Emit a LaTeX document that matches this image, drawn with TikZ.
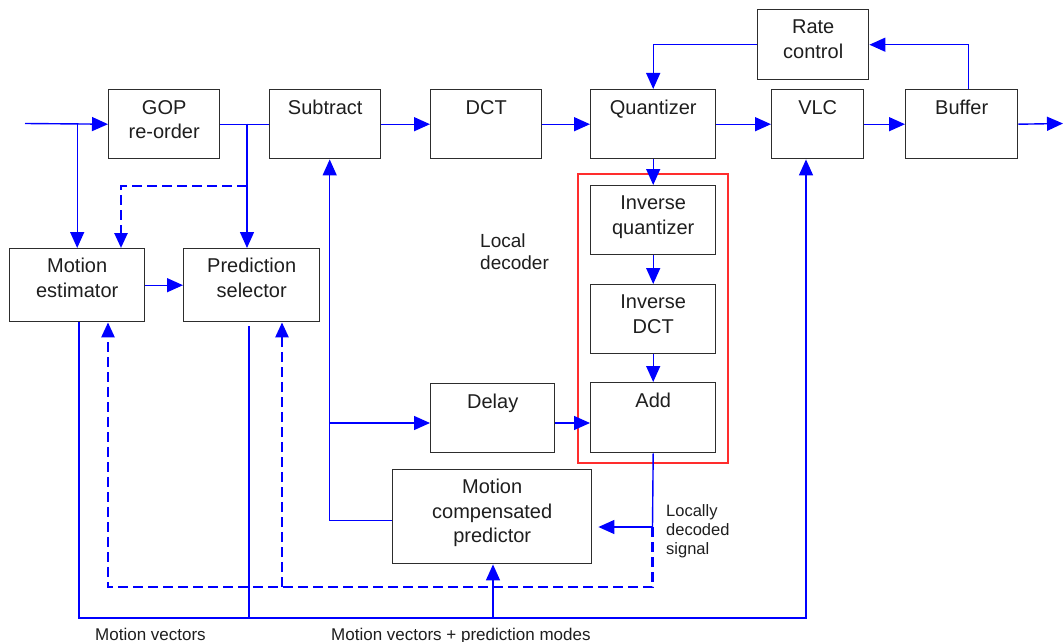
\documentclass[tikz,border=0pt]{standalone}
\usepackage{fontspec}
\setmainfont{Liberation Sans}
\usetikzlibrary{arrows.meta,calc}

\definecolor{sigblue}{RGB}{0,0,255}
\definecolor{boxgray}{RGB}{45,45,45}
\definecolor{txtgray}{RGB}{30,30,30}
\definecolor{decred}{RGB}{255,45,45}

\tikzset{
  blk/.style={draw=boxgray, line width=1.4pt, inner sep=0pt, anchor=north west},
  lbl/.style={anchor=north, inner sep=0pt, align=center, text=txtgray,
              font=\fontsize{20}{24.5}\selectfont},
  note/.style={anchor=north west, inner sep=0pt, align=left, text=txtgray},
  ln/.style={draw=sigblue, line width=1.4pt},
  arr/.style={ln, -{Triangle[length=16pt,width=14pt]}},
  darr/.style={ln, -{Triangle[length=15pt,width=13pt]}, line width=2.6pt, dash pattern=on 10pt off 5pt},
}

\begin{document}
\begin{tikzpicture}[x=1pt,y=-1pt]
\useasboundingbox (0,0) rectangle (1063,642);

% ---- processing blocks ----
\node[blk, minimum width=111pt, minimum height=69pt] (gop)   at (108,89)  {};
\node[blk, minimum width=111pt, minimum height=69pt] (sub)   at (269,89)  {};
\node[blk, minimum width=111pt, minimum height=69pt] (dct)   at (430,89)  {};
\node[blk, minimum width=125pt, minimum height=69pt] (quant) at (590,89)  {};
\node[blk, minimum width=92pt,  minimum height=69pt] (vlc)   at (771,89)  {};
\node[blk, minimum width=112pt, minimum height=69pt] (buf)   at (905,89)  {};
\node[blk, minimum width=111pt, minimum height=70pt] (rate)  at (757,9)   {};
\node[blk, minimum width=135pt, minimum height=73pt] (me)    at (9,248)   {};
\node[blk, minimum width=136pt, minimum height=73pt] (ps)    at (183,248) {};
\node[blk, minimum width=125pt, minimum height=69pt] (iq)    at (590,185) {};
\node[blk, minimum width=125pt, minimum height=69pt] (idct)  at (590,284) {};
\node[blk, minimum width=125pt, minimum height=70pt] (add)   at (590,382) {};
\node[blk, minimum width=124pt, minimum height=69pt] (delay) at (430,383) {};
\node[blk, minimum width=199pt, minimum height=94pt] (mcp)   at (392,469) {};

% local decoder frame
\node[draw=decred, line width=1.6pt, inner sep=0pt, anchor=north west,
      minimum width=150pt, minimum height=289pt] (ld) at (577,173) {};

% ---- block captions (top aligned) ----
\node[lbl] (gopt)   at ([yshift=-11pt]gop.north)   {GOP\\re-order};
\node[lbl] (subt)   at ([yshift=-11pt]sub.north)   {Subtract};
\node[lbl] (dctt)   at ([yshift=-11pt]dct.north)   {DCT};
\node[lbl] (quantt) at ([yshift=-11pt]quant.north) {Quantizer};
\node[lbl] (vlct)   at ([yshift=-11pt]vlc.north)   {VLC};
\node[lbl] (buft)   at ([yshift=-11pt]buf.north)   {Buffer};
\node[lbl] (ratet)  at ([yshift=-11pt]rate.north)  {Rate\\control};
\node[lbl] (met)    at ([yshift=-10pt]me.north)    {Motion\\estimator};
\node[lbl] (pst)    at ([yshift=-10pt]ps.north)    {Prediction\\selector};
\node[lbl] (iqt)    at ([yshift=-11pt]iq.north)    {Inverse\\quantizer};
\node[lbl] (idctt)  at ([yshift=-11pt]idct.north)  {Inverse\\DCT};
\node[lbl] (addt)   at ([yshift=-11pt]add.north)   {Add};
\node[lbl] (delayt) at ([yshift=-11pt]delay.north) {Delay};
\node[lbl] (mcpt)   at ([yshift=-10pt]mcp.north)   {Motion\\compensated\\predictor};

% ---- free labels ----
\node[note, font=\fontsize{19}{22}\selectfont] (ldlab) at (480,234) {Local\\decoder};
\node[note, font=\fontsize{16.5}{19.2}\selectfont] (lds) at (666,504) {Locally\\decoded\\signal};
\node[note, font=\fontsize{17}{20}\selectfont] (mvlab) at (95,628) {Motion vectors};
\node[note, font=\fontsize{17}{20}\selectfont] (mvplab) at (331,628) {Motion vectors + prediction modes};

% ---- junction points ----
\coordinate (src)  at (25,123.5);
\coordinate (sink) at (1063,123.5);
\coordinate (jgop) at (247,123.5);
\coordinate (dtop) at (247,186);
\coordinate (dleft) at (121,186);
\coordinate (jloc) at (652.5,527);
\coordinate (dbr)  at (652.5,587);
\coordinate (dbl)  at (108,587);
\coordinate (dps)  at (282,587);
\coordinate (bl)   at (79,618);
\coordinate (br)   at (806,618);
\coordinate (bps)  at (249,618);
\coordinate (bmcp) at (493,618);
\coordinate (fbd)  at (329,423);

% ---- forward path ----
\draw[arr] (src) -- (gop.west);
\draw[arr] (me.north |- src) -- (me.north);
\draw[ln]  (gop.east) -- (sub.west);
\draw[arr] (jgop) -- (jgop |- ps.north);
\draw[darr] (dtop) -- (dleft) -- (dleft |- me.north);
\draw[arr] (me.east) -- (ps.west);
\draw[arr] (sub.east) -- (dct.west);
\draw[arr] (dct.east) -- (quant.west);
\draw[arr] (quant.east) -- (vlc.west);
\draw[arr] (vlc.east) -- (buf.west);
\draw[arr] (buf.east) -- (sink);

% ---- rate control loop ----
\draw[arr] (rate.west) -| (quant.north);
\draw[arr] ([xshift=7pt]buf.north) |- (rate.east);

% ---- local decoder ----
\draw[arr] (quant.south) -- (iq.north);
\draw[arr] (iq.south) -- (idct.north);
\draw[arr] (idct.south) -- (add.north);
\draw[ln]  (add.south) -- (jloc);
\draw[arr, shorten >=6pt] (jloc) -- (jloc -| mcp.east);
\draw[darr] (jloc) -- (dbr) -- (dbl) -- (dbl |- me.south);
\draw[darr] (dps) -- (dps |- ps.south);

% ---- prediction feedback ----
\draw[arr] ([yshift=-4pt]mcp.west) -| ([xshift=4.5pt]sub.south);
\draw[arr] (fbd) -- (fbd -| delay.west);
\draw[arr] (fbd -| delay.east) -- (fbd -| add.west);

% ---- side information bus ----
\draw[arr] (me.south -| bl) -- (bl) -- (br) -- (br |- vlc.south);
\draw[ln]  ($(ps.south -| bps)+(0,4)$) -- (bps);
\draw[arr] (bmcp) -- (bmcp |- mcp.south);
\end{tikzpicture}
\end{document}
